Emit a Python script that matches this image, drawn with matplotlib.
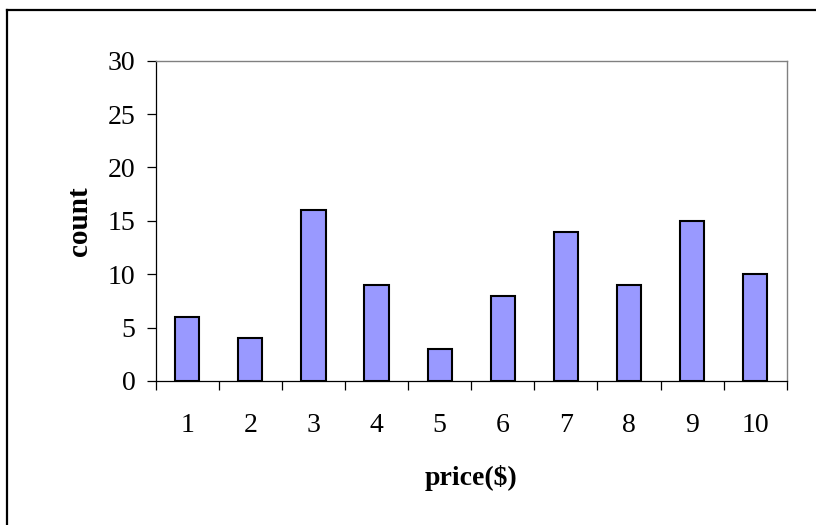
import matplotlib
matplotlib.use("Agg")
import matplotlib.pyplot as plt
from matplotlib.lines import Line2D
import numpy as np

# price buckets and how many items fall in each
prices = ["1", "2", "3", "4", "5", "6", "7", "8", "9", "10"]
counts = [6, 4, 16, 9, 3, 8, 14, 9, 15, 10]
y_ticks = [0, 5, 10, 15, 20, 25, 30]

plt.rcParams["font.family"] = ["Liberation Serif", "DejaVu Serif"]

W, H, DPI = 816, 525, 100
fig = plt.figure(figsize=(W / DPI, H / DPI), dpi=DPI)
fig.patch.set_facecolor("white")

# chart frame
px = lambda x: x / W
py = lambda y: 1 - y / H
fig.add_artist(Line2D([px(6.5), px(6.5)], [py(9.5), 0], transform=fig.transFigure,
                      color="black", lw=1.6, solid_capstyle="projecting"))
fig.add_artist(Line2D([px(6.5), 1], [py(9.5), py(9.5)], transform=fig.transFigure,
                      color="black", lw=1.6, solid_capstyle="projecting"))

ax = fig.add_axes([px(155.7), py(381), px(786.7) - px(155.7), py(60.7) - py(381)])

x = np.arange(len(prices))
ax.bar(x, counts, width=0.385, color="#9999FF", edgecolor="black", linewidth=1.5, zorder=3)

ax.set_xlim(-0.5, len(prices) - 0.5)
ax.set_ylim(0, 30)

# y axis
ax.set_yticks(y_ticks)
ax.set_yticklabels([str(v) for v in y_ticks], fontsize=20)
ax.tick_params(axis="y", direction="out", length=6.5, width=0.9, color="black", pad=8)

# x axis: ticks between categories, labels centred under bars
ax.set_xticks(np.arange(-0.5, len(prices), 1.0))
ax.set_xticklabels([])
ax.set_xticks(x, minor=True)
ax.set_xticklabels(prices, minor=True, fontsize=20)
ax.tick_params(axis="x", which="major", direction="out", length=6.5, width=0.9, color="black")
ax.tick_params(axis="x", which="minor", length=0, pad=23)

for side in ("top", "right"):
    ax.spines[side].set_color("#808080")
    ax.spines[side].set_linewidth(1.0)
for side in ("left", "bottom"):
    ax.spines[side].set_color("black")
    ax.spines[side].set_linewidth(0.9)
ax.spines["bottom"].set_zorder(4)

ax.set_ylabel("count", fontsize=21, fontweight="bold", labelpad=11)
ax.set_xlabel("price($)", fontsize=20, fontweight="bold", labelpad=19.5)

fig.savefig("out.png", dpi=DPI, facecolor="white")
